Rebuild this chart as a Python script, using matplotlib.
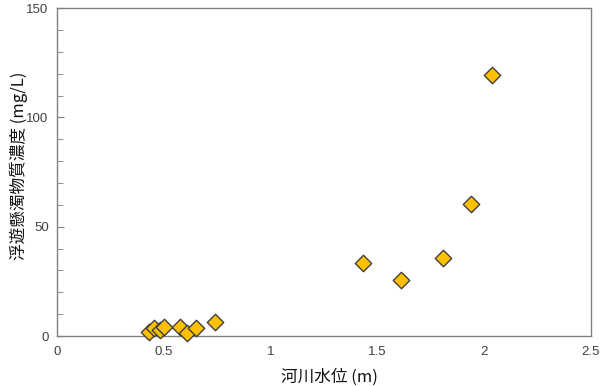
import matplotlib
matplotlib.use("Agg")
import matplotlib.pyplot as plt
from matplotlib.ticker import MultipleLocator

plt.rcParams['font.family'] = ['Liberation Sans', 'Noto Sans CJK JP', 'DejaVu Sans']

water_level = [0.43, 0.456, 0.482, 0.502, 0.576, 0.607, 0.651, 0.74, 1.433, 1.61, 1.807, 1.937, 2.037]
concentration = [2.0, 3.5, 2.7, 4.2, 4.2, 1.5, 3.5, 6.2, 33.5, 25.8, 35.7, 60.4, 119.3]

fig = plt.figure(figsize=(6, 3.86), dpi=100)
ax = fig.add_axes([0.095, 0.1295, 0.89, 0.8495])

ax.scatter(water_level, concentration, marker='D', s=70, color='#FFC000',
           edgecolor='#404040', linewidth=1.0, zorder=3, clip_on=False)

ax.set_xlim(0, 2.5)
ax.set_ylim(0, 150)
ax.yaxis.set_major_locator(MultipleLocator(50))
ax.yaxis.set_minor_locator(MultipleLocator(10))
ax.set_xticks([0, 0.5, 1, 1.5, 2, 2.5])
ax.set_xticklabels(['0', '0.5', '1', '1.5', '2', '2.5'])

for s in ax.spines.values():
    s.set_color('#808080')
    s.set_linewidth(1.0)
ax.tick_params(axis='both', which='both', direction='in', colors='#808080',
               labelcolor='#404040', labelsize=9.5)
ax.tick_params(axis='x', which='major', length=0, pad=7)
ax.tick_params(axis='y', which='major', length=5, pad=6)
ax.tick_params(axis='y', which='minor', length=4)

ax.set_xlabel('河川水位 (m)', fontsize=12, color='#111111',
              family=['Noto Sans CJK JP', 'DejaVu Sans'])
ax.set_ylabel('浮遊懸濁物質濃度 (mg/L)', fontsize=12, color='#111111',
              family=['Noto Sans CJK JP', 'DejaVu Sans'])
ax.xaxis.set_label_coords(0.51, -0.1)
ax.yaxis.set_label_coords(-0.054, 0.52)

fig.savefig('out.png', dpi=100)
